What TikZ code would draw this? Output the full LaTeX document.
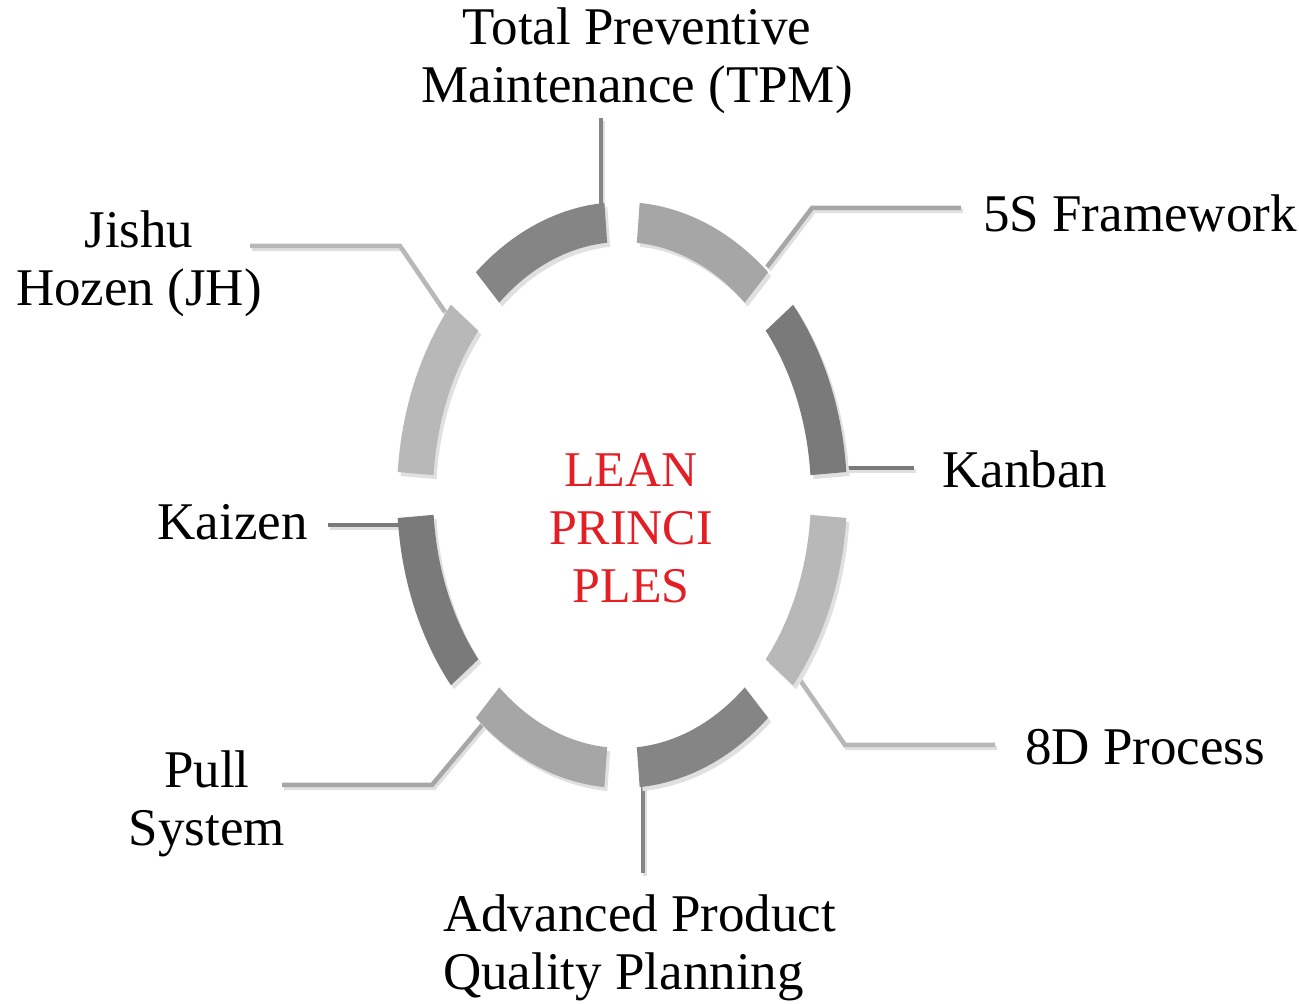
\documentclass[tikz,border=0pt]{standalone}
\usepackage{fontspec}
\setmainfont{Liberation Serif}
\usepackage{tikz}
\definecolor{darkseg}{HTML}{7A7A7A}
\definecolor{midseg}{HTML}{858585}
\definecolor{lightseg}{HTML}{A6A6A6}
\definecolor{paleseg}{HTML}{B8B8B8}
\definecolor{leanred}{HTML}{E31E24}
\newcommand{\ringseg}[3]{\fill[seg,#3] (#1:225pt and 293pt) arc[start angle=#1,end angle=#2,x radius=225pt,y radius=293pt] -- (#2:189pt and 253pt) arc[start angle=#2,end angle=#1,x radius=189pt,y radius=253pt] -- cycle;}
\tikzset{
  seg/.style={preaction={fill=black!12,transform canvas={shift={(3pt,-4pt)}}}},
  lead/.style={line width=4.5pt,preaction={draw=black!12,line width=4.5pt,transform canvas={shift={(2pt,-3pt)}}}},
  lbl/.style={font=\fontsize{53}{58}\selectfont,inner sep=0pt},
}

\begin{document}
\begin{tikzpicture}[x=1pt,y=1pt]
        \useasboundingbox (0,0) rectangle (1299,1004);
        \node[lbl,align=center,anchor=base] (tpm) at (637,901) {Total Preventive\\Maintenance (TPM)};
        \node[lbl,anchor=base east] (fives) at (1297,772) {5S Framework};
        \node[lbl,align=center,anchor=base] (jishu) at (139,698) {Jishu\\Hozen (JH)};
        \node[lbl,anchor=base west] (kanban) at (942,516) {Kanban};
        \node[lbl,anchor=base east] (kaizen) at (308,464) {Kaizen};
        \node[lbl,anchor=base west] (eightd) at (1025,239) {8D Process};
        \node[lbl,align=center,anchor=base] (pull) at (207,158) {Pull\\System};
        \node[lbl,align=left,anchor=base west] (apqp) at (443,14) {Advanced Product\\Quality Planning};
        \node[lbl,align=center,anchor=base,text=leanred,font=\fontsize{50}{58}\selectfont] (lean) at (631,401) {LEAN\\PRINCI\\PLES};
        % leader lines
        \coordinate (tpm1) at (601,886);
        \coordinate (tpm2) at (601,790);
        \coordinate (fs1) at (961,796);
        \coordinate (fs2) at (812,796);
        \coordinate (fs3) at (767,737);
        \coordinate (kb1) at (914,536);
        \coordinate (kb2) at (840,536);
        \coordinate (ed1) at (995,259);
        \coordinate (ed2) at (845,259);
        \coordinate (ed3) at (800,324);
        \coordinate (ap1) at (643,131);
        \coordinate (ap2) at (643,224);
        \coordinate (ps1) at (282,219);
        \coordinate (ps2) at (432,219);
        \coordinate (ps3) at (482,279);
        \coordinate (kz1) at (328,479);
        \coordinate (kz2) at (405,479);
        \coordinate (jh1) at (250,758);
        \coordinate (jh2) at (400,758);
        \coordinate (jh3) at (445,692);
        \draw[lead,color=midseg] (tpm1) -- (tpm2);
        \draw[lead,color=lightseg] (fs1) -- (fs2) -- (fs3);
        \draw[lead,color=darkseg] (kb1) -- (kb2);
        \draw[lead,color=paleseg] (ed1) -- (ed2) -- (ed3);
        \draw[lead,color=midseg] (ap1) -- (ap2);
        \draw[lead,color=lightseg] (ps1) -- (ps2) -- (ps3);
        \draw[lead,color=darkseg] (kz1) -- (kz2);
        \draw[lead,color=paleseg] (jh1) -- (jh2) -- (jh3);
        % ring
        \begin{scope}[shift={(622,509)}]
          \foreach \a/\col in {0/darkseg,45/lightseg,90/midseg,135/paleseg,180/darkseg,225/lightseg,270/midseg,315/paleseg}{
            \ringseg{\a+4.5}{\a+40.5}{\col}
          }
        \end{scope}
      \end{tikzpicture}
\end{document}
